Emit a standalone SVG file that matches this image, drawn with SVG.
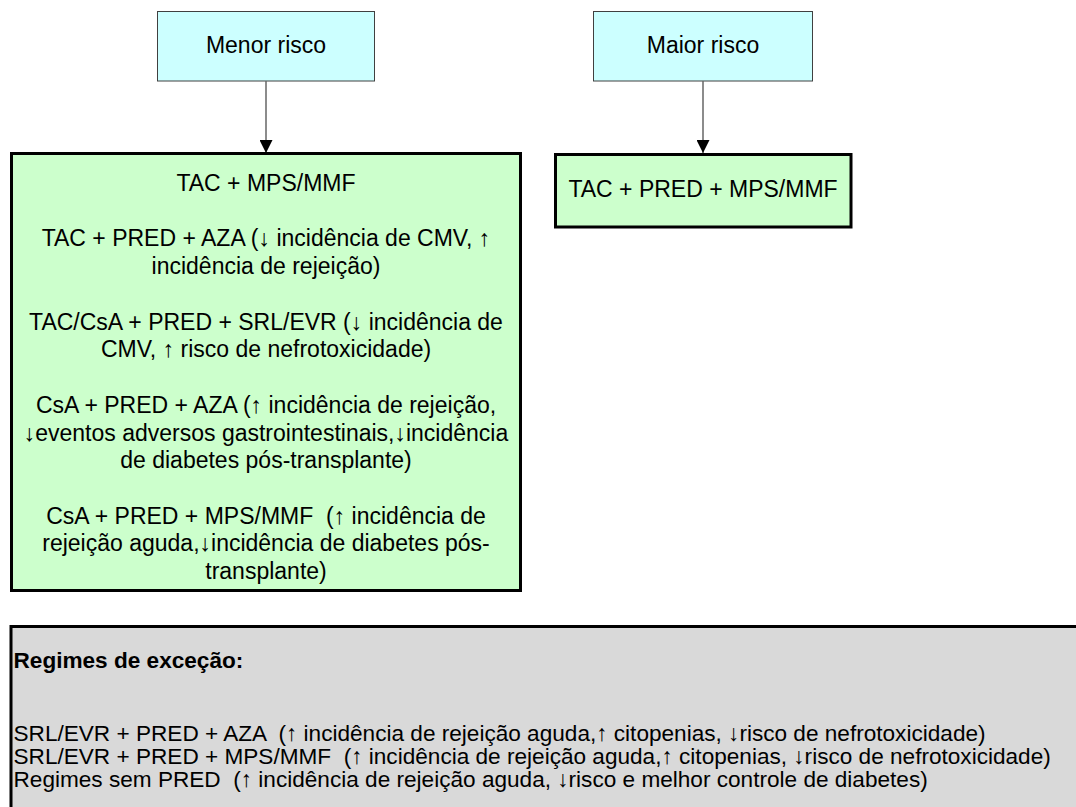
<svg xmlns="http://www.w3.org/2000/svg" width="1076" height="807" viewBox="0 0 1076 807">
<defs>
<style>
text{font-family:"Liberation Sans",Arial,sans-serif;font-size:23px;fill:#000}
.c{text-anchor:middle}
.b{font-weight:bold}
.g{font-size:22.6px}
.top{fill:#CCFFFF;stroke:#404040;stroke-width:1}
.grn{fill:#CCFFCC;stroke:#000;stroke-width:3}
.gry{fill:#D9D9D9;stroke:#000;stroke-width:3}
.conn{stroke:#666;stroke-width:1.5;fill:none}
</style>
<marker id="ah" markerWidth="13" markerHeight="13" refX="13" refY="6.5" orient="auto" markerUnits="userSpaceOnUse">
<path d="M0,0 L13,6.5 L0,13 Z" fill="#000"/>
</marker>
</defs>
<rect width="1076" height="807" fill="#fff"/>
<g id="menor">
<rect class="top" x="157.5" y="11.5" width="217" height="69.5"/>
<text class="c" x="266" y="53">Menor risco</text>
</g>
<g id="maior">
<rect class="top" x="593.5" y="11.5" width="219" height="69.5"/>
<text class="c" x="703" y="53">Maior risco</text>
</g>
<g id="connectors">
<line class="conn" x1="266" y1="81" x2="266" y2="153" marker-end="url(#ah)"/>
<line class="conn" x1="703" y1="81" x2="703" y2="153" marker-end="url(#ah)"/>
</g>
<g id="menor-regimes">
<rect class="grn" x="11.5" y="153.5" width="509" height="437"/>
<text class="c" x="266" y="191">TAC + MPS/MMF</text>
<text class="c" x="266" y="246">TAC + PRED + AZA (↓ incidência de CMV, ↑</text>
<text class="c" x="266" y="274">incidência de rejeição)</text>
<text class="c" x="266" y="330">TAC/CsA + PRED + SRL/EVR (↓ incidência de</text>
<text class="c" x="266" y="357">CMV, ↑ risco de nefrotoxicidade)</text>
<text class="c" x="266" y="413">CsA + PRED + AZA (↑ incidência de rejeição,</text>
<text class="c" x="266" y="441">↓eventos adversos gastrointestinais,↓incidência</text>
<text class="c" x="266" y="468">de diabetes pós-transplante)</text>
<text class="c" x="266" y="524" xml:space="preserve">CsA + PRED + MPS/MMF  (↑ incidência de</text>
<text class="c" x="266" y="551">rejeição aguda,↓incidência de diabetes pós-</text>
<text class="c" x="266" y="579">transplante)</text>
</g>
<g id="maior-regime">
<rect class="grn" x="555.5" y="154.5" width="295.5" height="72.5"/>
<text class="c" x="703" y="197">TAC + PRED + MPS/MMF</text>
</g>
<g id="excecao">
<rect class="gry" x="11" y="626.5" width="1080" height="200"/>
<text class="b g" x="13.5" y="668">Regimes de exceção:</text>
<text class="g" x="13.5" y="741" xml:space="preserve">SRL/EVR + PRED + AZA  (↑ incidência de rejeição aguda,↑ citopenias, ↓risco de nefrotoxicidade)</text>
<text class="g" x="13.5" y="764" xml:space="preserve">SRL/EVR + PRED + MPS/MMF  (↑ incidência de rejeição aguda,↑ citopenias, ↓risco de nefrotoxicidade)</text>
<text class="g" x="13.5" y="787" xml:space="preserve">Regimes sem PRED  (↑ incidência de rejeição aguda, ↓risco e melhor controle de diabetes)</text>
</g>
</svg>
